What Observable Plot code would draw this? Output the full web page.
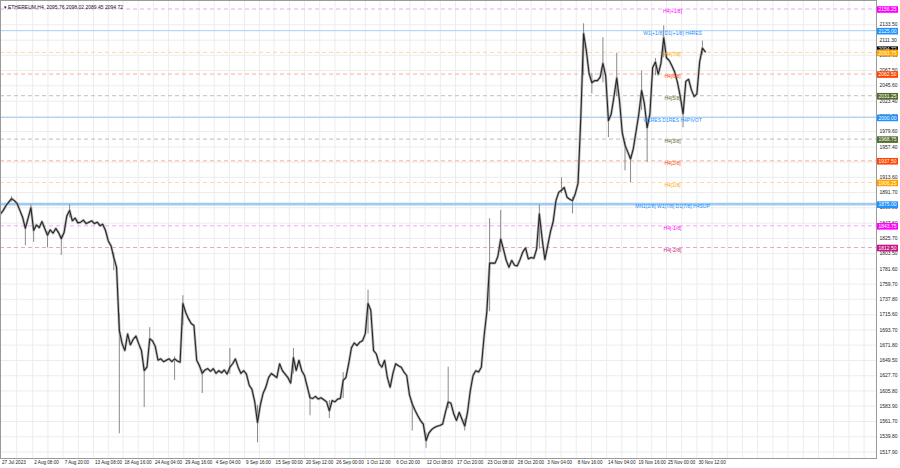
<!DOCTYPE html>
<html><head><meta charset="utf-8">
<script src="https://cdn.jsdelivr.net/npm/d3@7"></script>
<script src="https://cdn.jsdelivr.net/npm/@observablehq/plot@0.6"></script>
<style>
html,body{margin:0;padding:0;background:#fff;}
#chart{width:900px;height:468px;}
</style></head><body><div id="chart"></div>
<script>
// ---------- data ----------
const headerText = "\u25BE ETHEREUM,H4  2095.76 2098.02 2089.45 2094.72";
const seriesStart = "2023-07-27T12:00:00Z";
const stepHours = 12;
const closes = [
1861,1866,1873,1878,1883,1880,1876,1866,1856,1840,1855,1870,1837,1845,1841,1850,1840,1830,1838,1833,
1840,1834,1825,1834,1858,1866,1851,1855,1848,1849,1852,1847,1849,1851,1847,1849,1844,1846,1837,1822,
1815,1798,1784,1693,1674,1664,1688,1672,1680,1685,1674,1664,1635,1640,1681,1678,1670,1650,1652,1648,
1650,1652,1648,1652,1649,1647,1732,1719,1710,1703,1700,1650,1642,1631,1636,1638,1634,1638,1631,1635,
1632,1636,1630,1640,1645,1652,1640,1631,1635,1630,1614,1608,1590,1560,1585,1602,1611,1625,1631,1628,
1625,1645,1635,1630,1625,1617,1654,1635,1650,1635,1628,1612,1596,1595,1598,1594,1596,1593,1590,1577,
1592,1590,1594,1595,1621,1625,1645,1668,1675,1671,1676,1678,1688,1732,1722,1664,1659,1645,1640,1650,
1625,1611,1631,1645,1642,1640,1633,1628,1600,1587,1578,1570,1563,1558,1534,1545,1550,1553,1555,1556,
1558,1575,1590,1588,1573,1563,1575,1565,1555,1575,1606,1628,1635,1633,1640,1685,1720,1790,1790,1790,
1800,1825,1810,1794,1784,1794,1787,1786,1795,1806,1812,1796,1798,1797,1810,1861,1825,1795,1815,1835,
1850,1880,1892,1895,1899,1885,1882,1880,1890,1905,2000,2121,2096,2063,2050,2053,2053,2058,2078,2060,
1995,2005,2030,2057,2024,1978,1960,1950,1940,1955,1980,2005,2039,2020,1985,2005,2072,2080,2062,2078,
2115,2086,2082,2074,2065,2050,2030,2005,2052,2055,2040,2030,2034,2080,2100,2094.72
];
const wickIdx  = [4,9,11,12,17,22,25,41,43,52,54,63,66,73,83,93,106,112,119,124,133,149,154,162,168,177,181,195,203,207,211,214,218,220,223,226,228,232,234,237,240,247,254];
const wickLow  = [1878,1815,1862,1820,1812,1801,1855,1779,1544,1582,1672,1621,1700,1602,1630,1531,1630,1570,1566,1595,1688,1548,1523,1580,1548,1720,1805,1810,1890,1861,2060,2034,2050,1971,2030,1923,1906,2010,1935,2060,2086,1985,2090];
const wickHigh = [1886,1845,1874,1845,1835,1830,1874,1805,1717,1640,1697,1655,1743,1636,1667,1585,1667,1600,1592,1632,1751,1590,1545,1640,1565,1854,1866,1874,1913,1885,2135,2063,2115,2000,2092,1965,1945,2067,1995,2085,2132,2015,2110];

const levelPrices = [2156.25,2125.00,2093.75,2062.50,2031.25,2000.00,1968.75,1937.50,1906.25,1875.00,1843.75,1812.50];
const levelNames = ["H4[+1/8]","W1[+1/8] D1[+1/8] H4RES","H4[7/8]","H4[6/8]","H4[5/8]","W1RES D1RES H4PIVOT","H4[3/8]","H4[2/8]","H4[1/8]","MN1[2/8] W1[7/8] D1[7/8] H4SUP","H4[-1/8]","H4[-2/8]"];
const lastPrice = 2094.72;

const priceTicks = [2133.50,2111.30,2089.60,2067.50,2045.60,2023.40,2001.50,1979.60,1957.40,1935.50,1913.60,1891.70,1869.80,1847.60,1825.70,1803.50,1781.60,1759.70,1737.80,1715.60,1693.70,1671.80,1649.50,1627.70,1605.80,1583.90,1561.70,1539.80,1517.90];

const timeTickDates = ["2023-07-27T12:00Z","2023-08-02T08:00Z","2023-08-07T20:00Z","2023-08-13T08:00Z","2023-08-18T16:00Z","2023-08-24T04:00Z","2023-08-29T16:00Z","2023-09-04T04:00Z","2023-09-09T16:00Z","2023-09-15T00:00Z","2023-09-20T12:00Z","2023-09-26T00:00Z","2023-10-01T12:00Z","2023-10-06T20:00Z","2023-10-12T08:00Z","2023-10-17T20:00Z","2023-10-23T08:00Z","2023-10-28T20:00Z","2023-11-03T04:00Z","2023-11-08T16:00Z","2023-11-14T04:00Z","2023-11-19T16:00Z","2023-11-25T00:00Z","2023-11-30T12:00Z"];
const timeTickLabels = ["27 Jul 2023","2 Aug 08:00","7 Aug 20:00","13 Aug 08:00","18 Aug 16:00","24 Aug 04:00","29 Aug 16:00","4 Sep 04:00","9 Sep 16:00","15 Sep 00:00","20 Sep 12:00","26 Sep 00:00","1 Oct 12:00","6 Oct 20:00","12 Oct 08:00","17 Oct 20:00","23 Oct 08:00","28 Oct 20:00","3 Nov 04:00","8 Nov 16:00","14 Nov 04:00","19 Nov 16:00","25 Nov 00:00","30 Nov 12:00"];

// ---------- styles ----------
const MAG = "#ff00ff", BLUE = "#1e90ff", ORG = "#ffa500", RED = "#ff4500", OLV = "#556b2f", MVR = "#c71585";
const levelStyle = {
  "H4[+1/8]": {c: MAG, line: "#f6a3f6", dash: true, w: 1},
  "W1[+1/8] D1[+1/8] H4RES": {c: BLUE, line: "#a6cff6", dash: false, w: 1},
  "H4[7/8]": {c: ORG, line: "#ffd7a0", dash: true, w: 1},
  "H4[6/8]": {c: RED, line: "#f9b3a0", dash: true, w: 1},
  "H4[5/8]": {c: OLV, line: "#bcc2ad", dash: true, w: 1},
  "W1RES D1RES H4PIVOT": {c: BLUE, line: "#a6cff6", dash: false, w: 1},
  "H4[3/8]": {c: OLV, line: "#bcc2ad", dash: true, w: 1},
  "H4[2/8]": {c: RED, line: "#f9b3a0", dash: true, w: 1},
  "H4[1/8]": {c: ORG, line: "#ffd7a0", dash: true, w: 1},
  "MN1[2/8] W1[7/8] D1[7/8] H4SUP": {c: BLUE, line: "#9fcbf3", dash: false, w: 2.6},
  "H4[-1/8]": {c: MAG, line: "#f6a3f6", dash: true, w: 1},
  "H4[-2/8]": {c: MVR, line: "#e7a6cf", dash: true, w: 1}
};

// ---------- tables ----------
const t0 = new Date(seriesStart);
const bars = closes.map((c, i) => ({t: new Date(+t0 + i * stepHours * 3600e3), c}));
const wicks = wickIdx.map((k, i) => ({t: bars[k].t, lo: wickLow[i], hi: wickHigh[i]}));
const levels = levelPrices.map((p, i) => ({p, name: levelNames[i], ...levelStyle[levelNames[i]]}));
const ticks = timeTickDates.map((d, i) => ({t: new Date(d), label: timeTickLabels[i]}));
const xEnd = new Date("2024-01-02T00:00:00Z");
const gridTimes = [];
for (let i = 1; i < ticks.length; i++) {
  gridTimes.push(new Date((+ticks[i - 1].t + +ticks[i].t) / 2), ticks[i].t);
}
{
  let g = +ticks[ticks.length - 1].t, half = 66 * 3600e3;
  while ((g += half) < +xEnd) gridTimes.push(new Date(g));
}

const font = "'Liberation Sans', Arial, sans-serif";
const chart = Plot.plot({
  width: 900, height: 468,
  marginLeft: 0, marginRight: 24, marginTop: 0, marginBottom: 10,
  style: {fontFamily: font, fontSize: "5px", color: "#222", background: "#fff"},
  color: {type: "identity"},
  x: {type: "utc", domain: [t0, xEnd], axis: null},
  y: {domain: [1508.4, 2168.5], axis: "right", ticks: priceTicks, tickFormat: d => d.toFixed(2), tickSize: 0, tickPadding: 3, label: null},
  marks: [
    Plot.ruleY(priceTicks, {stroke: "#ececec", strokeWidth: 1}),
    Plot.ruleX(gridTimes, {stroke: "#ececec", strokeWidth: 1}),
    Plot.ruleY(levels.filter(d => d.dash), {y: "p", stroke: "line", strokeWidth: 1, strokeDasharray: "4,3"}),
    Plot.ruleY(levels.filter(d => !d.dash), {y: "p", stroke: "line", strokeWidth: "w"}),
    Plot.ruleX(wicks, {x: "t", y1: "lo", y2: "hi", stroke: "#8a8a8a", strokeWidth: 1}),
    Plot.line(bars, {x: "t", y: "c", stroke: "#9a9a9a", strokeWidth: 2.6, strokeOpacity: 0.7}),
    Plot.line(bars, {x: "t", y: "c", stroke: "#262626", strokeWidth: 1.1, strokeLinejoin: "miter"}),
    Plot.text(levels, {y: "p", text: "name", fill: "c", frameAnchor: "right", dx: -204, dy: 2.5, textAnchor: "middle", fontSize: 5}),
    Plot.text(ticks, {x: "t", text: "label", frameAnchor: "bottom", dy: 5.5, dx: 1.5, textAnchor: "start", fontSize: 4.6}),
    Plot.text([headerText], {frameAnchor: "top-left", dx: 3, dy: 4.5, textAnchor: "start", fontSize: 5, fill: "#111"}),
    Plot.frame({stroke: "#9a9a9a"})
  ]
});

// price boxes on the right axis, placed with the plot's y scale
const ys = chart.scale("y");
const g = d3.select(chart).append("g").attr("font-family", font).attr("font-size", 5);
function box(price, fill) {
  const yy = ys.apply(price);
  g.append("rect").attr("x", 877).attr("y", yy - 2.3).attr("width", 21).attr("height", 6.6).attr("fill", fill);
  g.append("text").attr("x", 887.5).attr("y", yy + 1).attr("dy", "0.35em").attr("text-anchor", "middle").attr("fill", "#fff").text(price.toFixed(2));
}
{
  const yy = ys.apply(lastPrice) - 2.5;
  g.append("rect").attr("x", 877).attr("y", yy - 2.3).attr("width", 21).attr("height", 6.6).attr("fill", "#000");
  g.append("text").attr("x", 887.5).attr("y", yy + 1).attr("dy", "0.35em").attr("text-anchor", "middle").attr("fill", "#fff").text(lastPrice.toFixed(2));
}
levels.forEach(d => box(d.p, d.c));

document.getElementById("chart").appendChild(chart);
</script>
</body></html>
